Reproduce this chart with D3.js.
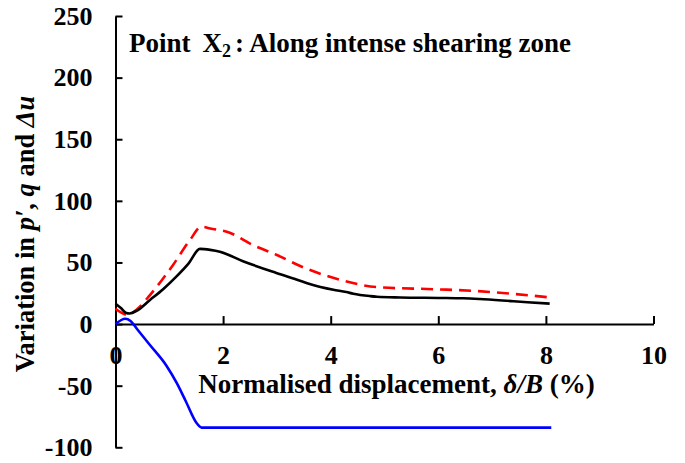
<!DOCTYPE html>
<html><head><meta charset="utf-8">
<script src="https://cdn.jsdelivr.net/npm/d3@7"></script>
<style>
html,body{margin:0;padding:0;background:#fff;}
svg text{font-family:"Liberation Serif","DejaVu Serif",serif;font-weight:bold;fill:#000;}
</style></head>
<body>
<svg id="chart" width="685" height="463"></svg>
<script>
// Data
const qX   = [0, 0.1, 0.2, 0.26, 0.4, 0.64, 0.89, 1.13, 1.36, 1.57, 1.76, 1.94, 2.37, 2.99, 3.43, 3.61, 4.05, 4.29, 4.42, 4.73, 4.86, 5.29, 6.0, 6.46, 6.77, 7.4, 8.07];
const qY   = [16.5, 13, 9, 8.6, 11, 19.5, 28.5, 38.5, 49.3, 61, 60.2, 58.7, 51, 41.5, 35.2, 32.5, 27.8, 26, 24.6, 22.7, 22.2, 21.6, 21.2, 20.9, 20.3, 18.5, 16.6];
const pX   = [0, 0.1, 0.22, 0.4, 0.64, 0.85, 1.07, 1.38, 1.6, 1.76, 2.07, 2.56, 3.0, 3.52, 4.17, 4.86, 5.91, 6.65, 7.4, 8.1];
const pY   = [12.5, 9.5, 7.5, 12, 23.5, 35, 48, 68, 79, 77.5, 75, 64, 56, 45.5, 36, 30, 28.3, 27, 24.5, 21.5];
const uX   = [0, 0.18, 0.28, 0.4, 0.64, 0.95, 1.14, 1.3, 1.51, 1.6, 1.7, 8.1];
const uY   = [0, 4.3, 2.5, -4, -17, -34, -48, -62, -80.5, -84, -84, -84];
const xTicks = [0, 2, 4, 6, 8, 10];
const yTicks = [-100, -50, 0, 50, 100, 150, 200, 250];

const FONT = '"Liberation Serif","DejaVu Serif",serif';
const svg = d3.select("#chart");
const FS = 26;
const FT = 27;
const x = d3.scaleLinear().domain([0, 10]).range([115.5, 653.5]);
const y = d3.scaleLinear().domain([-100, 250]).range([447.3, 16]);

// axes
const yAxis = d3.axisLeft(y).tickValues(yTicks).tickSizeInner(-7).tickSizeOuter(0)
  .tickPadding(23).tickFormat(d => String(d));
const gy = svg.append("g").attr("transform", `translate(${x(0)},0)`).call(yAxis);
const xAxis = d3.axisBottom(x).tickValues(xTicks).tickSizeInner(-8).tickSizeOuter(0)
  .tickPadding(21.5).tickFormat(d => String(d));
const gx = svg.append("g").attr("transform", `translate(0,${y(0)})`).call(xAxis);
[gx, gy].forEach(g => {
  g.attr("font-family", FONT);
  g.selectAll("path,line").attr("stroke", "#000").attr("stroke-width", 2);
  g.selectAll("text").attr("font-size", FS).attr("font-family", FONT).attr("font-weight", "bold").attr("fill", "#000");
});

// series
function draw(xs, ys, color, dash) {
  const pts = xs.map((v, i) => [v, ys[i]]);
  const line = d3.line().x(d => x(d[0])).y(d => y(d[1])).curve(d3.curveMonotoneX);
  const p = svg.append("path").datum(pts).attr("d", line)
    .attr("fill", "none").attr("stroke", color).attr("stroke-width", 2.6)
    .attr("stroke-linejoin", "round");
  if (dash) p.attr("stroke-dasharray", dash);
}
draw(uX, uY, "#0000FF");
draw(pX, pY, "#FF0000", "12,7");
draw(qX, qY, "#000000");

// title
const t = svg.append("text").attr("x", 129).attr("y", 51.5).attr("font-size", FT).attr("font-family", FONT);
t.append("tspan").text("Point");
t.append("tspan").attr("dx", 12).text("X");
t.append("tspan").attr("font-size", 18).attr("dy", 5).text("2");
t.append("tspan").attr("dy", -5).attr("dx", 4).text(": Along intense shearing zone");

// x-axis title
const xt = svg.append("text").attr("x", 396.5).attr("y", 393).attr("text-anchor", "middle").attr("font-size", FT).attr("font-family", FONT);
xt.append("tspan").text("Normalised displacement, ");
xt.append("tspan").attr("font-style", "italic").text("δ/B");
xt.append("tspan").text(" (%)");

// y-axis title
const yt = svg.append("text").attr("transform", "translate(34,234) rotate(-90)")
  .attr("text-anchor", "middle").attr("font-size", 26.5).attr("font-family", FONT);
yt.append("tspan").text("Variation in ");
yt.append("tspan").attr("font-style", "italic").text("p′");
yt.append("tspan").text(", ");
yt.append("tspan").attr("font-style", "italic").text("q");
yt.append("tspan").text(" and ");
yt.append("tspan").attr("font-style", "italic").text("Δu");
</script>
</body></html>
